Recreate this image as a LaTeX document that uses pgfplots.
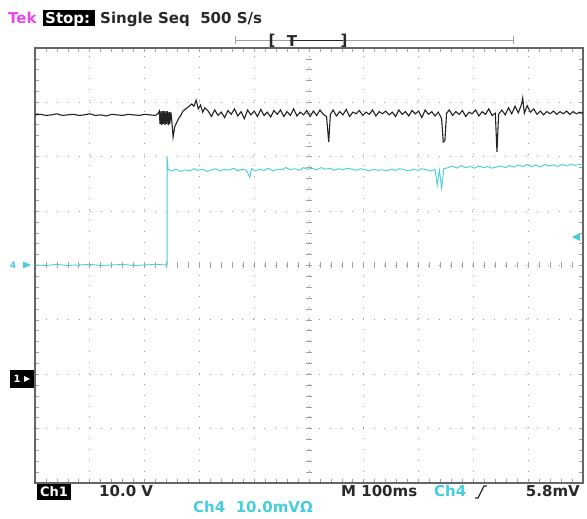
\documentclass[border=0pt]{standalone}
\usepackage{fontspec}
\setmainfont{DejaVu Sans}
\usepackage{pgfplots}
\pgfplotsset{compat=1.18}

\definecolor{trace1}{RGB}{35,35,35}
\definecolor{trace4}{RGB}{70,205,222}
\definecolor{tekpink}{RGB}{232,70,232}
\definecolor{grat}{RGB}{160,160,160}
\definecolor{txt}{RGB}{40,40,40}
\newcommand{\tekfont}{\fontsize{15}{18}\selectfont\bfseries}

\begin{document}
\begin{tikzpicture}[x=1pt,y=1pt]
\path[use as bounding box] (0,0) rectangle (587,519);

% tick marks along the centre cross of the graticule
\foreach \k in {1,...,49} \draw[grat, line width=0.7pt] ({35+\k*10.96},250.5) -- ({35+\k*10.96},256.5);
\foreach \k in {1,...,39} \draw[grat, line width=0.7pt] (306,{36+\k*10.875}) -- (312,{36+\k*10.875});

\begin{axis}[
    at={(35pt,36pt)}, anchor=south west,
    scale only axis, width=548pt, height=435pt,
    xmin=0, xmax=10, ymin=-4, ymax=4,
    xtick={0,...,10}, ytick={-4,...,4},
    minor x tick num=4, minor y tick num=4,
    xticklabels={}, yticklabels={},
    tick align=inside, tick pos=both,
    major tick length=4pt, minor tick length=4pt,
    tick style={grat, line width=0.7pt},
    grid=major,
    major grid style={grat, line width=1pt, dash pattern=on 1pt off 9.92pt},
    axis line style={gray!80!black, line width=1.2pt},
    clip=false,
]
% Ch1 (black)
\addplot[trace1, line width=1.1pt] coordinates {
 (0.00,2.77) (0.10,2.78) (0.20,2.76) (0.30,2.77) (0.40,2.79) (0.50,2.76) (0.60,2.77)
 (0.70,2.78) (0.80,2.76) (0.90,2.77) (1.00,2.79) (1.10,2.76) (1.20,2.77) (1.30,2.75)
 (1.40,2.78) (1.50,2.77) (1.60,2.76) (1.70,2.78) (1.80,2.77) (1.90,2.76) (2.00,2.78)
 (2.10,2.77) (2.20,2.76) (2.25,2.80)
 (2.27,2.84) (2.28,2.60) (2.30,2.84) (2.31,2.58) (2.33,2.84) (2.34,2.60) (2.36,2.84)
 (2.37,2.58) (2.39,2.84) (2.40,2.60) (2.42,2.84) (2.43,2.58) (2.45,2.82) (2.46,2.60)
 (2.48,2.82) (2.50,2.62) (2.52,2.36) (2.55,2.55)
 (2.58,2.62) (2.62,2.70) (2.66,2.76) (2.70,2.84) (2.75,2.88) (2.80,2.92) (2.86,2.97)
 (2.90,2.93) (2.94,3.04) (2.98,2.88) (3.02,2.95) (3.06,2.82) (3.10,2.90) (3.16,2.84)
 (3.22,2.74) (3.28,2.86) (3.34,2.76) (3.40,2.82) (3.46,2.72) (3.52,2.85) (3.58,2.78)
 (3.64,2.88) (3.70,2.75) (3.76,2.83) (3.82,2.70) (3.88,2.86) (3.94,2.77) (4.00,2.84)
 (4.06,2.74) (4.12,2.87) (4.18,2.76) (4.24,2.82) (4.30,2.73) (4.36,2.85) (4.42,2.78)
 (4.48,2.86) (4.54,2.74) (4.60,2.83) (4.66,2.76) (4.72,2.88) (4.78,2.75) (4.84,2.82)
 (4.90,2.77) (4.96,2.85) (5.02,2.74) (5.08,2.84) (5.14,2.76) (5.20,2.86) (5.26,2.78)
 (5.32,2.74) (5.36,2.27) (5.39,2.78) (5.44,2.86) (5.50,2.75) (5.56,2.83) (5.62,2.77)
 (5.68,2.87) (5.74,2.74) (5.80,2.82) (5.86,2.79) (5.92,2.85) (5.98,2.76) (6.04,2.82)
 (6.10,2.78) (6.16,2.86) (6.22,2.75) (6.28,2.83) (6.34,2.79) (6.40,2.84) (6.46,2.77)
 (6.52,2.82) (6.58,2.74) (6.64,2.86) (6.70,2.78) (6.76,2.83) (6.82,2.75) (6.88,2.85)
 (6.94,2.79) (7.00,2.84) (7.06,2.72) (7.12,2.86) (7.18,2.78) (7.24,2.83) (7.30,2.75)
 (7.36,2.82) (7.42,2.70) (7.45,2.27) (7.48,2.30) (7.51,2.80) (7.56,2.86) (7.62,2.76)
 (7.68,2.83) (7.74,2.78) (7.80,2.85) (7.86,2.74) (7.92,2.82) (7.98,2.79) (8.04,2.86)
 (8.10,2.75) (8.16,2.83) (8.22,2.78) (8.28,2.88) (8.34,2.76) (8.40,2.80) (8.43,2.09)
 (8.46,2.78) (8.52,2.86) (8.58,2.77) (8.64,2.90) (8.70,2.79) (8.76,2.93) (8.82,2.81)
 (8.88,2.97) (8.90,3.08) (8.93,2.80) (8.98,2.94) (9.04,2.82) (9.10,2.88) (9.16,2.78)
 (9.22,2.84) (9.28,2.77) (9.34,2.83) (9.40,2.79) (9.46,2.84) (9.52,2.78) (9.58,2.83)
 (9.64,2.79) (9.70,2.84) (9.76,2.78) (9.82,2.83) (9.88,2.79) (9.94,2.82) (10.00,2.80)
};
% Ch4 (cyan)
\addplot[trace4, line width=0.9pt] coordinates {
 (0.00,0.01) (0.20,0.00) (0.40,0.02) (0.60,0.00) (0.80,0.01) (1.00,0.02) (1.20,0.00)
 (1.40,0.01) (1.60,0.02) (1.80,0.00) (2.00,0.01) (2.20,0.02) (2.41,0.01)
 (2.41,2.00) (2.43,1.76) (2.50,1.74) (2.58,1.77) (2.66,1.73) (2.74,1.76) (2.82,1.74)
 (2.90,1.78) (2.98,1.75) (3.06,1.77) (3.14,1.73) (3.22,1.76) (3.30,1.78) (3.38,1.74)
 (3.46,1.77) (3.54,1.75) (3.62,1.79) (3.70,1.74) (3.78,1.77) (3.86,1.75) (3.92,1.62)
 (3.95,1.78) (4.02,1.74) (4.10,1.77) (4.18,1.75) (4.26,1.79) (4.34,1.74) (4.42,1.77)
 (4.50,1.76) (4.58,1.80) (4.66,1.76) (4.74,1.78) (4.82,1.75) (4.90,1.80) (4.98,1.77)
 (5.06,1.79) (5.14,1.76) (5.22,1.80) (5.30,1.77) (5.38,1.79) (5.46,1.75) (5.54,1.78)
 (5.62,1.76) (5.70,1.79) (5.78,1.77) (5.86,1.75) (5.94,1.78) (6.02,1.76) (6.10,1.74)
 (6.18,1.77) (6.26,1.75) (6.34,1.76) (6.42,1.74) (6.50,1.77) (6.58,1.75) (6.66,1.78)
 (6.74,1.76) (6.82,1.74) (6.90,1.77) (6.98,1.75) (7.06,1.78) (7.14,1.76) (7.22,1.74)
 (7.30,1.77) (7.34,1.48) (7.38,1.75) (7.42,1.42) (7.46,1.78) (7.54,1.80) (7.62,1.83)
 (7.70,1.79) (7.78,1.84) (7.86,1.80) (7.94,1.82) (8.02,1.79) (8.10,1.83) (8.18,1.80)
 (8.26,1.82) (8.34,1.79) (8.42,1.81) (8.50,1.83) (8.58,1.80) (8.66,1.84) (8.74,1.81)
 (8.82,1.85) (8.90,1.82) (8.98,1.86) (9.06,1.82) (9.14,1.85) (9.22,1.81) (9.30,1.86)
 (9.38,1.83) (9.46,1.85) (9.54,1.82) (9.62,1.86) (9.70,1.83) (9.78,1.86) (9.86,1.84)
 (9.94,1.86) (10.00,1.85)
};
\end{axis}

% channel markers
\node[trace4, font=\fontsize{9}{10}\selectfont\bfseries] at (13,254) {4};
\fill[trace4] (23,257.5) -- (31,254) -- (23,250.5) -- cycle;
\fill[black] (10,131) rectangle (34,149);
\node[white, font=\fontsize{10}{11}\selectfont\bfseries] at (17,140) {1};
\fill[white] (24,143) -- (30,140) -- (24,137) -- cycle;
\fill[trace4] (572,282) -- (580,286) -- (580,278) -- cycle;

% top status line
\node[anchor=base west, tekpink, font=\tekfont, inner sep=0] at (8,495) {Tek};
\fill[black] (43,493) rectangle (95,509);
\node[anchor=base west, white, font=\tekfont, inner sep=0] at (45,495) {Stop:};
\node[anchor=base west, txt, font=\tekfont, inner sep=0] at (100,495) {Single Seq\ \ 500 S/s};

% trigger position bar
\draw[grat, line width=0.8pt] (235,479) -- (513,479);
\draw[grat, line width=0.8pt] (235,475) -- (235,483);
\draw[grat, line width=0.8pt] (513,475) -- (513,483);
\draw[txt, line width=0.8pt] (290,479) -- (343,479);
\node[txt, font=\tekfont, inner sep=0] at (272,478) {[};
\node[txt, font=\tekfont, inner sep=0] at (292,478) {T};
\node[txt, font=\tekfont, inner sep=0] at (344,478) {]};

% bottom status lines
\fill[black] (37,19) rectangle (71,35);
\node[anchor=base, white, font=\fontsize{13}{15}\selectfont\bfseries, inner sep=0] at (54,22.5) {Ch1};
\node[anchor=base west, txt, font=\tekfont, inner sep=0] at (99,22) {10.0 V};
\node[anchor=base west, txt, font=\tekfont, inner sep=0] at (341,22) {M 100ms};
\node[anchor=base west, trace4, font=\tekfont, inner sep=0] at (434,22) {Ch4};
\draw[txt, line width=1.2pt] (475,21) -- (478,21) -- (484,33) -- (487,33);
\node[anchor=base east, txt, font=\tekfont, inner sep=0] at (580,22) {5.8mV};
\node[anchor=base west, trace4, font=\tekfont, inner sep=0] at (193,6) {Ch4\ \ 10.0mVΩ};
\end{tikzpicture}
\end{document}
